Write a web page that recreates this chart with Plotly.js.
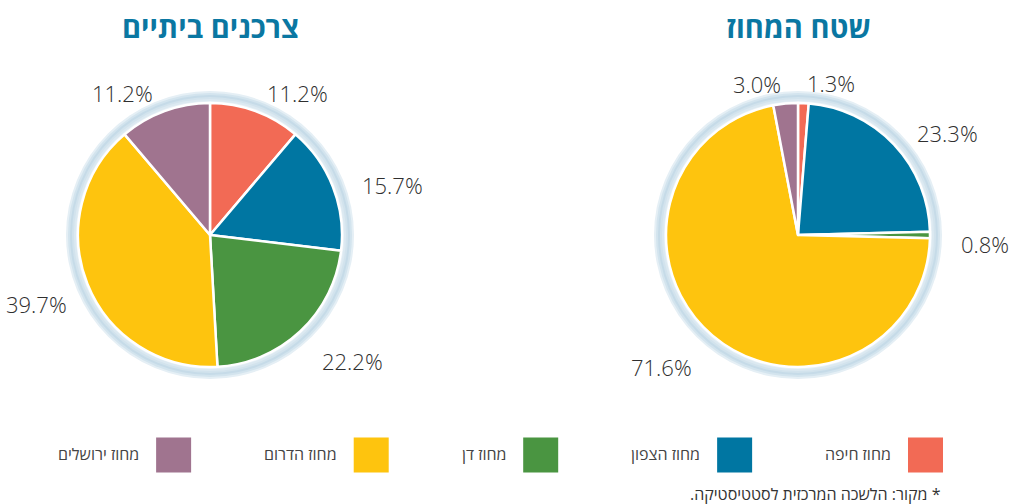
<!DOCTYPE html>
<html>
<head>
<meta charset="utf-8">
<script src="https://cdn.plot.ly/plotly-3.0.1.min.js"></script>
<style>
html,body{margin:0;padding:0;background:#fff;}
#chart{width:1022px;height:504px;}
</style>
</head>
<body>
<div id="chart"></div>
<script>
// ---- data ----
var districts = ['מחוז חיפה', 'מחוז הצפון', 'מחוז דן', 'מחוז הדרום', 'מחוז ירושלים'];
var districtColors = ['#f26a55', '#0076a2', '#4a9541', '#fec40e', '#a0748f'];
var householdTitle = 'צרכנים ביתיים';
var householdShare = [11.2, 15.7, 22.2, 39.7, 11.2];
var areaTitle = 'שטח המחוז';
var areaShare = [1.3, 23.3, 0.8, 71.6, 3.0];
var sourceNote = '* מקור: הלשכה המרכזית לסטטיסטיקה.';

// ---- layout helpers ----
var W = 1022, H = 504;
function px(x){ return x / W; }
function py(y){ return 1 - y / H; }
function domainFor(cx, cy, r){
  return {x: [px(cx - r), px(cx + r)], y: [py(cy + r), py(cy - r)]};
}
var pies = [
  {cx: 210, cy: 235, title: householdTitle, values: householdShare},
  {cx: 798, cy: 235, title: areaTitle, values: areaShare}
];
var haloRings = [
  {r: 144, c: '#e5eff5'},
  {r: 142, c: '#d3e4ee'},
  {r: 140, c: '#c6dbe8'},
  {r: 138, c: '#d2e3ed'},
  {r: 136, c: '#dce9f1'},
  {r: 134, c: '#e9f2f7'}
];
var pieR = 132;
var labelDist = 161, labelDy = 9, edgePad = 8;
var labelFont = {family: 'Open Sans, sans-serif', size: 22, weight: 300, color: '#2f2f2f'};

var measure = document.createElement('canvas').getContext('2d');
function textWidth(t, font){ measure.font = font; return measure.measureText(t).width; }

var traces = [];
var annotations = [];
var shapes = [];

pies.forEach(function(p, k){
  haloRings.forEach(function(h, j){
    traces.push({
      type: 'pie', values: [1], labels: ['halo' + k + '_' + j],
      domain: domainFor(p.cx, p.cy, h.r),
      marker: {colors: [h.c], line: {width: 0}},
      textinfo: 'none', hoverinfo: 'skip', showlegend: false, sort: false
    });
  });
  var texts = p.values.map(function(v){ return v.toFixed(1) + '%'; });
  traces.push({
    type: 'pie',
    values: p.values,
    labels: districts,
    text: texts,
    textinfo: 'none',
    domain: domainFor(p.cx, p.cy, pieR),
    marker: {colors: districtColors, line: {color: '#ffffff', width: 2.5}},
    sort: false,
    direction: 'clockwise',
    rotation: 0,
    showlegend: false,
    hoverinfo: 'label+text'
  });
  // outside labels, placed at each slice's mid-angle
  var total = p.values.reduce(function(a, b){ return a + b; }, 0);
  var cum = 0;
  p.values.forEach(function(v, i){
    var mid = (cum + v / 2) / total * 2 * Math.PI;
    cum += v;
    var s = Math.sin(mid), c = Math.cos(mid);
    var ax = p.cx + labelDist * s;
    var ay = p.cy - labelDist * c + labelDy;
    var tw = textWidth(texts[i], '300 22px "Open Sans"');
    var anchor = s >= 0 ? 'left' : 'right';
    if (anchor === 'right' && ax - tw < edgePad) ax = edgePad + tw;
    if (anchor === 'left' && ax + tw > W - edgePad) ax = W - edgePad - tw;
    annotations.push({
      text: texts[i], xref: 'paper', yref: 'paper', x: px(ax), y: py(ay),
      xanchor: anchor, yanchor: 'middle', showarrow: false,
      font: labelFont
    });
  });
  annotations.push({
    text: '<b>' + p.title + '</b>', xref: 'paper', yref: 'paper',
    x: px(p.cx), y: py(26), xanchor: 'center', yanchor: 'middle', showarrow: false,
    font: {family: 'Open Sans, sans-serif', size: 29, weight: 800, color: '#0a77a2'}
  });
});

// ---- custom right-to-left legend ----
var legendSize = 16;
var cursor = 943; // right edge of first swatch
var sw = 35, gapText = 15, gapItem = 75, legendY = 455;
districts.forEach(function(d, i){
  shapes.push({
    type: 'rect', xref: 'paper', yref: 'paper',
    x0: px(cursor - sw), x1: px(cursor), y0: py(legendY + sw / 2), y1: py(legendY - sw / 2),
    fillcolor: districtColors[i], line: {width: 0}
  });
  var textRight = cursor - sw - gapText;
  annotations.push({
    text: d, xref: 'paper', yref: 'paper', x: px(textRight), y: py(legendY - 1),
    xanchor: 'right', yanchor: 'middle', showarrow: false,
    font: {family: 'Open Sans, sans-serif', size: legendSize, color: '#444444'}
  });
  cursor = textRight - textWidth(d, legendSize + 'px "Open Sans"') - gapItem;
});

annotations.push({
  text: '\u200F' + sourceNote + '\u200F', xref: 'paper', yref: 'paper', x: px(943), y: py(494),
  xanchor: 'right', yanchor: 'middle', showarrow: false,
  font: {family: 'Open Sans, sans-serif', size: 16, color: '#333333'}
});

var layout = {
  width: W, height: H,
  margin: {l: 0, r: 0, t: 0, b: 0},
  paper_bgcolor: '#ffffff',
  showlegend: false,
  annotations: annotations,
  shapes: shapes
};
Plotly.newPlot('chart', traces, layout, {displayModeBar: false, staticPlot: true});
</script>
</body>
</html>
